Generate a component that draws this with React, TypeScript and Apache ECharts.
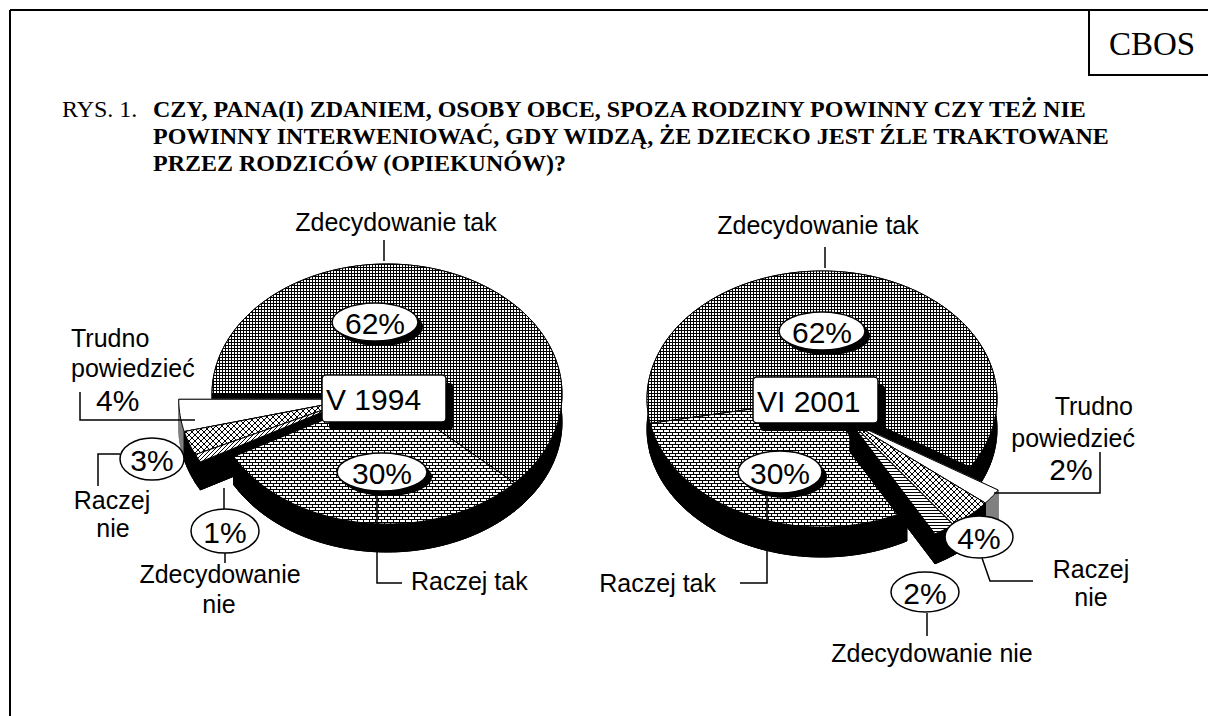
import React, { useEffect, useRef } from "react";
import * as echarts from "echarts";

// ---------------- data ----------------
const categories = ["Zdecydowanie tak", "Raczej tak", "Raczej nie", "Zdecydowanie nie", "Trudno powiedzieć"];
const values1994 = [62, 30, 3, 1, 4];
const values2001 = [62, 30, 4, 2, 2];
const periods = ["V 1994", "VI 2001"];
const figureLabel = "RYS. 1.";
const titleLines = [
  "CZY, PANA(I) ZDANIEM, OSOBY OBCE, SPOZA RODZINY POWINNY CZY TEŻ NIE",
  "POWINNY INTERWENIOWAĆ, GDY WIDZĄ, ŻE DZIECKO JEST ŹLE TRAKTOWANE",
  "PRZEZ RODZICÓW (OPIEKUNÓW)?",
];
const sourceLabel = "CBOS";

// ---------------- layout / style ----------------
const pieValues = [values1994, values2001];
const pieLayouts = [
  { cx: 387, cy: 394, rx: 175, ry: 130, depth: 28, start: 180, order: [0, 1, 3, 2, 4], explodeAngle: 168, explode: 34 },
  { cx: 822, cy: 399, rx: 175, ry: 128, depth: 30, start: 169, order: [0, 4, 2, 3, 1], explodeAngle: 48, explode: 42 },
];
const explodedCats = [2, 3, 4];
const patternKinds = [
  ["grid", "brick", "cross", "diag", "white"],
  ["grid", "brick", "cross", "hstripe", "white"],
];
const wallColors = ["#000", "#000", "#000", "#000", "#808080"];

const SANS = '"Liberation Sans", Arial, sans-serif';
const SERIF = '"Liberation Serif", "Times New Roman", serif';

function makePattern(kind: string): any {
  if (kind === "white") return "#ffffff";
  let w = 4, h = 4;
  const px: number[][] = [];
  if (kind === "grid") {
    w = 3; h = 3;
    for (let i = 0; i < 3; i++) { px.push([i, 0]); if (i > 0) px.push([0, i]); }
  } else if (kind === "brick") {
    w = 6; h = 6;
    for (let i = 0; i < 6; i++) { px.push([i, 0]); px.push([i, 3]); }
    px.push([0, 1]); px.push([0, 2]);
    px.push([3, 4]); px.push([3, 5]);
  } else if (kind === "cross") {
    w = 6; h = 6;
    for (let i = 0; i < 6; i++) { px.push([i, i]); px.push([5 - i, i]); }
  } else if (kind === "diag") {
    w = 4; h = 4;
    for (let i = 0; i < 4; i++) { px.push([3 - i, i]); }
  } else if (kind === "hstripe") {
    w = 4; h = 3;
    for (let i = 0; i < 4; i++) px.push([i, 0]);
  }
  const c = document.createElement("canvas");
  c.width = w; c.height = h;
  const ctx = c.getContext("2d")!;
  ctx.fillStyle = "#fff"; ctx.fillRect(0, 0, w, h);
  ctx.fillStyle = "#000";
  px.forEach(([x, y]) => ctx.fillRect(x, y, 1, 1));
  return { image: c.toDataURL(), repeat: "repeat", imageWidth: w, imageHeight: h };
}

const rad = (d: number) => (d * Math.PI) / 180;

function buildPieSeries(pi: number, patterns: any[]) {
  const L = pieLayouts[pi];
  const vals = L.order.map((ci) => pieValues[pi][ci]);
  const total = vals.reduce((a, b) => a + b, 0);
  const angles: number[][] = [];
  let acc = 0;
  vals.forEach((v) => {
    const a1 = L.start + (acc / total) * 360;
    acc += v;
    angles.push([a1, L.start + (acc / total) * 360]);
  });
  const offsets = L.order.map((ci) =>
    explodedCats.includes(ci)
      ? [L.explode * Math.cos(rad(L.explodeAngle)), (L.explode * Math.sin(rad(L.explodeAngle)) * L.ry) / L.rx]
      : [0, 0]
  );
  const depthKey = angles.map((a, k) => Math.sin(rad((a[0] + a[1]) / 2)) * L.ry + offsets[k][1]);
  const sorted = depthKey.map((d, k) => k).sort((a, b) => depthKey[a] - depthKey[b]);
  const rank: number[] = [];
  sorted.forEach((k, r) => (rank[k] = r));

  return {
    type: "custom",
    coordinateSystem: "none",
    silent: true,
    data: L.order.map((ci) => ({ name: categories[ci], value: pieValues[pi][ci] })),
    renderItem: (params: any, api: any) => {
      const k = params.dataIndex;
      const ci = L.order[k];
      const a1 = angles[k][0];
      const a2 = a1 + (api.value(0) / total) * 360;
      const [dx, dy] = offsets[k];
      const cx = L.cx + dx, cy = L.cy + dy, t = L.depth;
      const n = Math.max(2, Math.ceil((a2 - a1) / 1.5));
      const arcTop: number[][] = [];
      for (let i = 0; i <= n; i++) {
        const a = rad(a1 + ((a2 - a1) * i) / n);
        arcTop.push([cx + L.rx * Math.cos(a), cy + L.ry * Math.sin(a)]);
      }
      const arcBot = arcTop.map((p) => [p[0], p[1] + t]);
      const wall = wallColors[ci];
      const zb = rank[k] * 10;
      const e1 = arcTop[0], e2 = arcTop[arcTop.length - 1];
      const wallStyle = { fill: wall, stroke: wall, lineWidth: 1 };
      return {
        type: "group",
        children: [
          { type: "polygon", z2: zb, shape: { points: [[cx, cy + t], ...arcBot] }, style: wallStyle },
          { type: "polygon", z2: zb, shape: { points: [...arcTop, ...arcBot.slice().reverse()] }, style: wallStyle },
          { type: "polygon", z2: zb, shape: { points: [[cx, cy], e1, [e1[0], e1[1] + t], [cx, cy + t]] }, style: wallStyle },
          { type: "polygon", z2: zb, shape: { points: [[cx, cy], e2, [e2[0], e2[1] + t], [cx, cy + t]] }, style: wallStyle },
          {
            type: "polygon",
            z2: zb + 5,
            shape: { points: [[cx, cy], ...arcTop] },
            style: { fill: patterns[ci], stroke: "#000", lineWidth: 1 },
          },
        ],
      };
    },
  };
}

// ---------- graphic helpers ----------
const Z = 100;
function txt(text: string, x: number, y: number, size: number, align = "center", font = SANS, weight = "normal") {
  return {
    type: "text",
    x,
    y,
    z: Z + 2,
    silent: true,
    style: {
      text,
      fill: "#000",
      font: `${weight} ${size}px ${font}`,
      align,
      verticalAlign: "middle",
      textAlign: align,
      textVerticalAlign: "middle",
    },
  };
}
function line(points: number[][], w = 1.5) {
  return {
    type: "polyline",
    z: Z,
    silent: true,
    shape: { points },
    style: { stroke: "#000", lineWidth: w, fill: null },
  };
}
function bubble(text: string, cx: number, cy: number, rx: number, ry: number, shadow: boolean) {
  const els: any[] = [];
  if (shadow)
    els.push({ type: "ellipse", z: Z, silent: true, shape: { cx: cx + 5, cy: cy + 5, rx, ry }, style: { fill: "#000" } });
  els.push({
    type: "ellipse",
    z: Z + 1,
    silent: true,
    shape: { cx, cy, rx, ry },
    style: { fill: "#fff", stroke: "#000", lineWidth: 1.5 },
  });
  els.push(txt(text, cx, cy + 1, 30));
  return els;
}
function periodBox(text: string, x: number, y: number, w: number, h: number) {
  return [
    { type: "rect", z: Z, silent: true, shape: { x: x + 7, y: y + 8, width: w, height: h, r: 4 }, style: { fill: "#000" } },
    {
      type: "rect",
      z: Z + 1,
      silent: true,
      shape: { x, y, width: w, height: h, r: 4 },
      style: { fill: "#fff", stroke: "#000", lineWidth: 1.5 },
    },
    txt(text, x + 4, y + h / 2 + 1, 30, "left"),
  ];
}

const pct = (v: number) => `${v}%`;

export default function App() {
  const ref = useRef<HTMLDivElement>(null);
  useEffect(() => {
    if (!ref.current) return;
    const chart = echarts.init(ref.current, undefined, { renderer: "svg" });
    const patterns = patternKinds.map((row) => row.map((k) => makePattern(k)));

    const graphics: any[] = [
      // frame
      line([[10, 10], [1208, 10]], 2),
      line([[10, 10], [10, 716]], 2),
      line([[1089, 10], [1089, 75], [1208, 75]], 2),
      txt(sourceLabel, 1152, 44, 33, "center", SERIF),
      txt(figureLabel, 62, 109, 24, "left", SERIF),
      ...titleLines.map((l, i) => txt(l, 153, 109 + i * 27, 24, "left", SERIF, "bold")),

      // ---- left pie (1994) ----
      txt(categories[0], 396, 222, 25),
      line([[384, 240], [384, 261]], 1.5),
      ...bubble(pct(values1994[0]), 375, 322, 43, 19, true),
      ...periodBox(periods[0], 322, 375, 124, 47),
      ...bubble(pct(values1994[1]), 382, 472, 45, 19, true),
      line([[377, 491], [377, 583], [402, 583]], 1.5),
      txt(categories[1], 411, 581, 25, "left"),
      txt("Trudno", 71, 338, 25, "left"),
      txt("powiedzieć", 71, 368, 25, "left"),
      txt(pct(values1994[4]), 96, 400, 30, "left"),
      line([[80, 392], [80, 420], [195, 420]], 1.5),
      ...bubble(pct(values1994[2]), 152, 459, 32, 21, false),
      line([[120, 454], [98, 454], [98, 486]], 1.5),
      txt("Raczej", 112, 500, 25),
      txt("nie", 113, 528, 25),
      ...bubble(pct(values1994[3]), 225, 531, 34, 22, false),
      line([[224, 488], [224, 509]], 1.5),
      line([[225, 553], [225, 563]], 1.5),
      txt("Zdecydowanie", 220, 574, 25),
      txt("nie", 219, 604, 25),

      // ---- right pie (2001) ----
      txt(categories[0], 818, 225, 25),
      line([[825, 247], [825, 268]], 1.5),
      ...bubble(pct(values2001[0]), 822, 331, 43, 19, true),
      ...periodBox(periods[1], 753, 377, 125, 46),
      ...bubble(pct(values2001[1]), 780, 472, 42, 21, true),
      line([[767, 494], [767, 583], [740, 583]], 1.5),
      txt(categories[1], 716, 583, 25, "right"),
      txt("Trudno", 1133, 406, 25, "right"),
      txt("powiedzieć", 1135, 438, 25, "right"),
      txt(pct(values2001[4]), 1071, 469, 30),
      line([[1100, 452], [1100, 493], [994, 493]], 1.5),
      ...bubble(pct(values2001[2]), 979, 537, 34, 21, false),
      line([[982, 558], [990, 581], [1033, 581]], 1.5),
      txt("Raczej", 1091, 569, 25),
      txt("nie", 1091, 597, 25),
      ...bubble(pct(values2001[3]), 925, 592, 34, 20, false),
      line([[927, 613], [927, 636]], 1.5),
      txt(categories[3], 932, 653, 25),
    ];

    chart.setOption({
      animation: false,
      backgroundColor: "#fff",
      series: [buildPieSeries(0, patterns[0]), buildPieSeries(1, patterns[1])],
      graphic: { elements: graphics },
    });
    return () => chart.dispose();
  }, []);
  return (
    <div
      ref={ref}
      style={{ position: "absolute", left: 0, top: 0, width: 1208, height: 716, background: "#fff" }}
    />
  );
}
